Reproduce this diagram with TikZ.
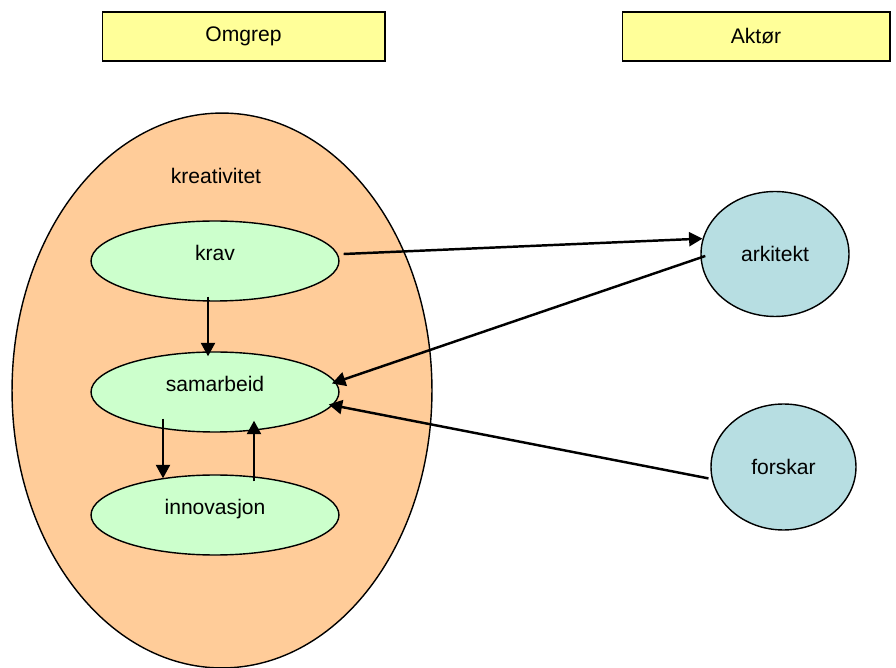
\documentclass[tikz,border=0pt]{standalone}
\usepackage{fontspec}
\setmainfont{Liberation Sans}
\usetikzlibrary{calc,shapes.geometric,arrows.meta}
\definecolor{peach}{HTML}{FFCC99}
\definecolor{mint}{HTML}{CCFFCC}
\definecolor{paleblue}{HTML}{B7DEE2}
\definecolor{paleyellow}{HTML}{FFFF99}
\tikzset{
	headbox/.style={draw=black, line width=0.6pt, fill=paleyellow, minimum height=0.98cm, inner sep=0pt, font=\fontsize{12}{14}\selectfont},
	concept/.style={ellipse, draw=black, line width=0.8pt, fill=mint, minimum width=4.96cm, minimum height=1.6cm, inner sep=0pt, text height=0.3cm, text depth=0.3cm, font=\fontsize{12}{14}\selectfont},
	actor/.style={ellipse, draw=black, line width=0.8pt, fill=paleblue, inner sep=0pt, font=\fontsize{12}{14}\selectfont},
	arr/.style={line width=1.4pt, -{Triangle[length=0.27cm, width=0.28cm]}}
}

\begin{document}
\begin{tikzpicture}[x=0.02cm, y=-0.02cm]
		%%%%% START %%%%%
		\useasboundingbox (0, 0) rectangle (896, 668);
		
		\node[headbox, minimum width=5.66cm] (omgrep) at (243.5, 36.5) {Omgrep};
		\node[headbox, minimum width=5.36cm] (aktor) at (756, 36.5) {Aktør};
		
		\node[ellipse, draw=black, line width=0.8pt, fill=peach, minimum width=8.4cm, minimum height=11.1cm] (kreativ) at (222, 390.5) {};
		\node[font=\fontsize{12}{14}\selectfont] (kreativlabel) at (216, 176) {kreativitet};
		
		\node[concept] (krav) at (215, 261) {krav};
		\node[concept] (samarbeid) at (215, 392) {samarbeid};
		\node[concept] (innovasjon) at (215, 515) {innovasjon};
		
		\node[actor, minimum width=2.96cm, minimum height=2.5cm] (arkitekt) at (775, 254) {arkitekt};
		\node[actor, minimum width=2.9cm, minimum height=2.52cm] (forskar) at (783.5, 467) {forskar};
		
		\draw[arr] ($(krav.east)+(4, -7)$) -- (arkitekt.168);
		\draw[arr] ($(arkitekt.west)+(5, 2)$) -- ($(samarbeid.4)+(-5, 0)$);
		\draw[arr] ($(forskar.189)+(-3, 0)$) -- ($(samarbeid.-6)+(-5, 0)$);
		
		\draw[arr] ($(krav.south)+(-7, -5)$) -- ($(samarbeid.north)+(-7, 5)$);
		\draw[arr] ($(samarbeid.south)+(-52, -14)$) -- ($(innovasjon.north)+(-52, 4)$);
		\draw[arr] ($(innovasjon.north)+(39, 7)$) -- ($(samarbeid.south)+(39, -12)$);
		
		%%%%% END %%%%%
	\end{tikzpicture}
\end{document}
